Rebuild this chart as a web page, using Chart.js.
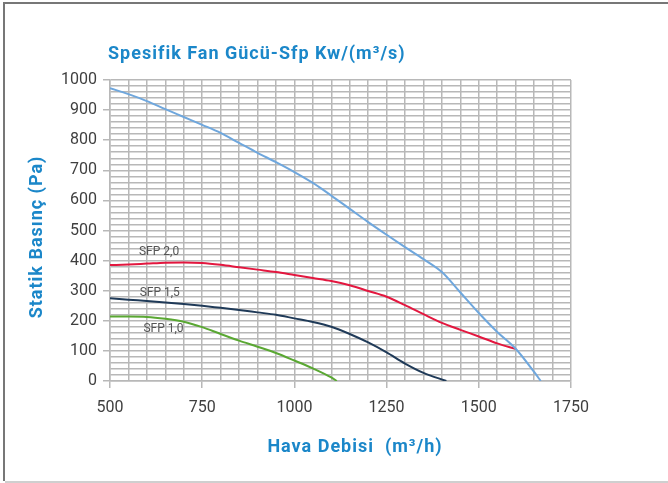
<!DOCTYPE html>
<html>
<head>
<meta charset="utf-8">
<script src="https://cdn.jsdelivr.net/npm/chart.js@4"></script>
<style>
html,body{margin:0;padding:0;background:#fff;}
#wrap{position:relative;width:668px;height:483px;}
canvas{display:block;}
</style>
</head>
<body>
<div id="wrap"><canvas id="c" width="668" height="483"></canvas></div>
<script>
// ---- Data ----
const chartTitle = 'Spesifik Fan Gücü-Sfp Kw/(m³/s)';
const xTitle = 'Hava Debisi  (m³/h)';
const yTitle = 'Statik Basınç (Pa)';

const maxX = [500,550,600,650,700,750,800,850,900,950,1000,1050,1100,1150,1200,1250,1300,1350,1400,1450,1500,1550,1600,1650,1668];
const maxY = [973,953,930,903,877,851,824,791,758,727,694,658,616,572,528,486,445,405,362,294,226,163,107,30,0];

const sfp20X = [500,550,600,650,700,750,800,850,900,950,1000,1050,1100,1150,1200,1250,1300,1350,1400,1450,1500,1550,1601];
const sfp20Y = [385,387,390,393,394,392,386,378,370,362,352,342,332,318,299,280,252,222,193,170,148,125,106];

const sfp15X = [500,550,600,650,700,750,800,850,900,950,1000,1050,1100,1150,1200,1250,1300,1350,1412];
const sfp15Y = [275,270,266,261,256,250,243,236,228,220,208,196,180,156,128,95,58,27,0];

const sfp10X = [500,550,600,650,700,750,800,850,900,950,1000,1050,1100,1115];
const sfp10Y = [214,214,213,207,197,179,156,134,114,93,68,42,12,0];

const curveLabels = ['SFP 2,0','SFP 1,5','SFP 1,0'];
const curveLabelX = [633,635,645];
const curveLabelY = [428,292,173];

const xMin = 500, xMax = 1750, xMajor = 250, xMinor = 50;
const yMin = 0, yMax = 1000, yMajor = 100, yMinor = 20;

function pts(xs, ys){ return xs.map((x,i)=>({x:x, y:ys[i]})); }

const frameAndText = {
  id:'frameAndText',
  beforeDraw(chart){
    const ctx = chart.ctx;
    ctx.save();
    ctx.fillStyle = '#fff';
    ctx.fillRect(0,0,chart.width,chart.height);
    ctx.restore();
  },
  afterDraw(chart){
    const ctx = chart.ctx, a = chart.chartArea;
    const xs = chart.scales.x, ys = chart.scales.y;
    ctx.save();
    // frame
    ctx.fillStyle = '#777';
    ctx.fillRect(3,2,2,479);
    ctx.fillRect(3,2,665,2);
    ctx.fillStyle = '#cfcfcf';
    ctx.fillRect(5,481,663,2);
    // titles
    ctx.fillStyle = '#1b87c9';
    ctx.font = 'bold 18px Roboto';
    try { ctx.letterSpacing = '1px'; } catch(e) {}
    ctx.textBaseline = 'middle';
    ctx.textAlign = 'left';
    ctx.fillText(chartTitle, a.left - 2, 54);
    ctx.textAlign = 'center';
    ctx.fillText(xTitle, 355, 447);
    ctx.translate(37, 237);
    ctx.rotate(-Math.PI/2);
    ctx.fillText(yTitle, 0, 0);
    ctx.restore();
    // curve labels
    ctx.save();
    ctx.fillStyle = '#555';
    ctx.font = '12px Roboto';
    ctx.textAlign = 'center';
    ctx.textBaseline = 'middle';
    curveLabels.forEach((t,i)=>{
      ctx.fillText(t, xs.getPixelForValue(curveLabelX[i]), ys.getPixelForValue(curveLabelY[i]));
    });
    ctx.restore();
  }
};

const gridColor = '#b8b8b8';
const tickFont = {family:'Roboto', size:16};

new Chart(document.getElementById('c'), {
  type:'scatter',
  data:{
    datasets:[
      {data:pts(maxX,maxY), borderColor:'#6fa7dd', borderWidth:2},
      {data:pts(sfp20X,sfp20Y), borderColor:'#e3173f', borderWidth:2},
      {data:pts(sfp15X,sfp15Y), borderColor:'#1f3a58', borderWidth:2},
      {data:pts(sfp10X,sfp10Y), borderColor:'#5aa833', borderWidth:2}
    ].map(d=>Object.assign(d,{showLine:true, pointRadius:0, fill:false, cubicInterpolationMode:'monotone'}))
  },
  options:{
    responsive:false,
    animation:false,
    devicePixelRatio:1,
    layout:{padding:{left:0, top:80, right:97, bottom:0}},
    plugins:{legend:{display:false}, title:{display:false}, tooltip:{enabled:false}},
    scales:{
      x:{
        type:'linear', min:xMin, max:xMax,
        afterFit(s){ s.height = 102; },
        grid:{color:gridColor, lineWidth:1.5, tickLength:7,
              tickColor:(c)=> (c.tick && c.tick.value % xMajor === 0) ? gridColor : 'rgba(0,0,0,0)'},
        border:{color:gridColor, width:1.5},
        ticks:{stepSize:xMinor, autoSkip:false, maxRotation:0, maxTicksLimit:1000, padding:10,
               color:'#3f3f3f', font:tickFont,
               callback:(v)=> v % xMajor === 0 ? String(v) : ''}
      },
      y:{
        type:'linear', min:yMin, max:yMax,
        afterFit(s){ s.width = 110; },
        grid:{color:gridColor, lineWidth:1.5, tickLength:7,
              tickColor:(c)=> (c.tick && c.tick.value % yMajor === 0) ? gridColor : 'rgba(0,0,0,0)'},
        border:{color:gridColor, width:1.5},
        ticks:{stepSize:yMinor, autoSkip:false, maxTicksLimit:1000, padding:6,
               color:'#3f3f3f', font:tickFont,
               callback:(v)=> v % yMajor === 0 ? String(v) : ''}
      }
    }
  },
  plugins:[frameAndText]
});
</script>
</body>
</html>
